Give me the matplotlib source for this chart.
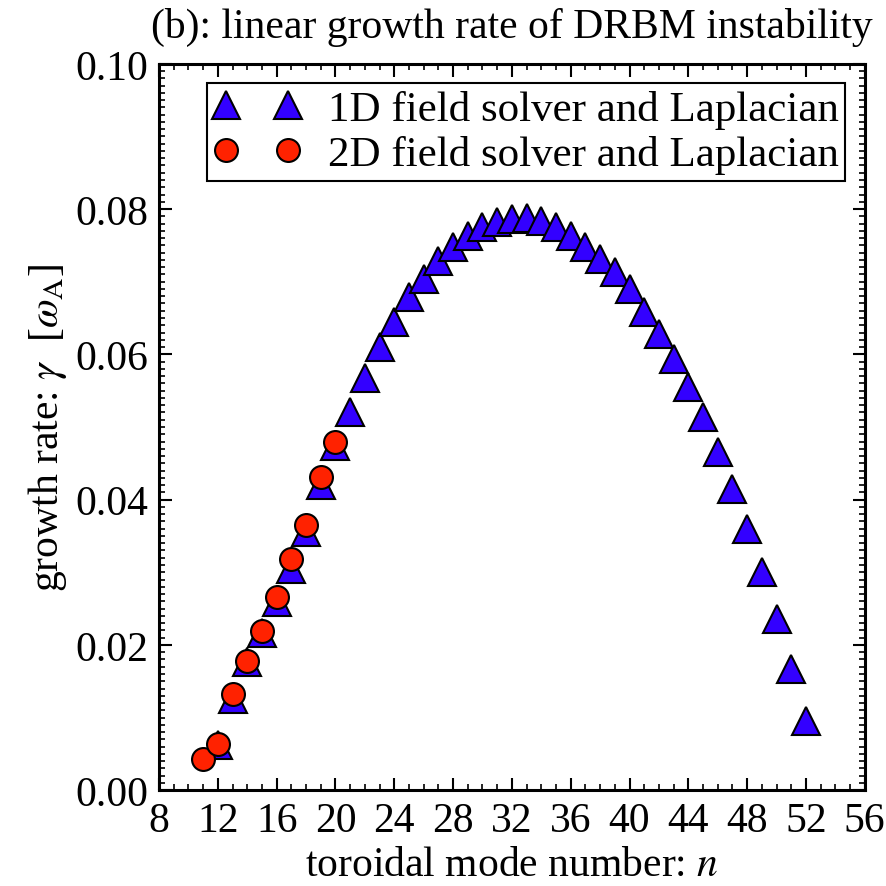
import matplotlib
matplotlib.use("Agg")
import matplotlib.pyplot as plt
from matplotlib.ticker import MultipleLocator, FormatStrFormatter

# growth rate vs toroidal mode number, 1D field solver (full scan)
n_1d = list(range(12, 53))
gamma_1d = [
    0.0062, 0.0126, 0.0176, 0.0217, 0.0259, 0.0305, 0.0355, 0.0420, 0.0474,
    0.0521, 0.0568, 0.0610, 0.0645, 0.0679, 0.0704, 0.0729, 0.0748, 0.0763, 0.0775,
    0.0782, 0.0786, 0.0788, 0.0784, 0.0775, 0.0763, 0.0748, 0.0731, 0.0713, 0.0690,
    0.0658, 0.0628, 0.0594, 0.0555, 0.0514, 0.0466, 0.0415, 0.0360, 0.0300, 0.0236,
    0.0167, 0.0095,
]

# 2D field solver, low-n points only
n_2d = list(range(11, 21))
gamma_2d = [0.0043, 0.0063, 0.0132, 0.0178, 0.0219, 0.0266, 0.0318, 0.0365, 0.0431, 0.0479]

label_1d = "1D field solver and Laplacian"
label_2d = "2D field solver and Laplacian"

FS = 30

plt.rcParams["font.family"] = ["Liberation Serif", "DejaVu Serif"]
plt.rcParams["mathtext.fontset"] = "stix"

fig = plt.figure(figsize=(8.86, 8.87), dpi=100)
ax = fig.add_axes([0.1795, 0.108, 0.7965, 0.819])

ax.plot(n_1d, gamma_1d, linestyle="None", marker="^", markersize=19.5,
        markerfacecolor="#3300ff", markeredgecolor="black", markeredgewidth=1.5,
        label=label_1d, zorder=2)
ax.plot(n_2d, gamma_2d, linestyle="None", marker="o", markersize=16.5,
        markerfacecolor="#ff2200", markeredgecolor="black", markeredgewidth=1.5,
        label=label_2d, zorder=3)

ax.set_xlim(8, 56)
ax.set_ylim(0.0, 0.10)
ax.xaxis.set_major_locator(MultipleLocator(4))
ax.xaxis.set_minor_locator(MultipleLocator(1))
ax.yaxis.set_major_locator(MultipleLocator(0.02))
ax.yaxis.set_minor_locator(MultipleLocator(0.001))
ax.yaxis.set_major_formatter(FormatStrFormatter("%.2f"))
ax.tick_params(which="both", direction="in", top=True, right=True, labelsize=FS)
ax.tick_params(which="major", length=9, width=1.5, pad=8)
ax.tick_params(which="minor", length=4.5, width=1.2)
for spine in ax.spines.values():
    spine.set_linewidth(2.2)

ax.set_xlabel(r"toroidal mode number: $n$", fontsize=FS, labelpad=4)
ax.set_ylabel(r"growth rate: $\gamma$  [$\omega_{\rm A}$]", fontsize=FS, labelpad=4)
ax.set_title("(b): linear growth rate of DRBM instability", fontsize=FS, pad=19)

leg = ax.legend(loc="upper right", numpoints=2, fontsize=31, handlelength=2.05,
                handletextpad=0.62, borderpad=0.15, labelspacing=0.15,
                borderaxespad=0.45, fancybox=False, framealpha=1.0)
leg.get_frame().set_edgecolor("black")
leg.get_frame().set_linewidth(1.5)

fig.savefig("out.png", dpi=100)
plt.close(fig)
